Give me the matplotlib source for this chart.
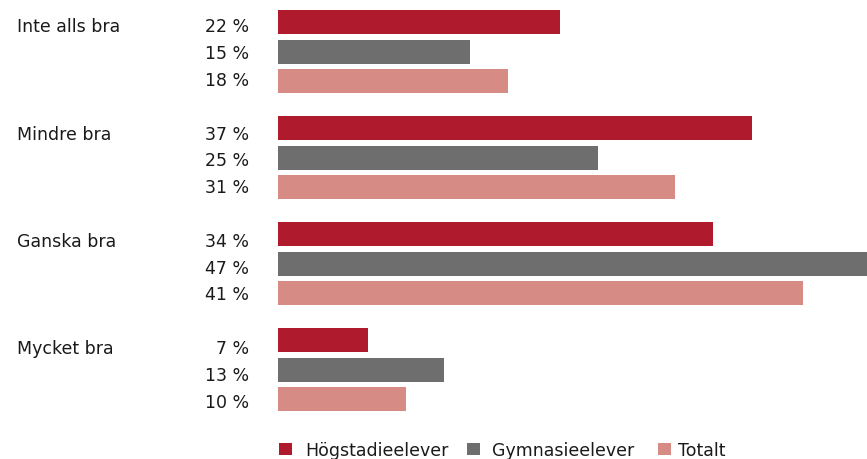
import matplotlib
matplotlib.use("Agg")
import matplotlib.pyplot as plt
from matplotlib.patches import Rectangle

categories = ["Inte alls bra", "Mindre bra", "Ganska bra", "Mycket bra"]
series_names = ["Högstadieelever", "Gymnasieelever", "Totalt"]
hogstadie = [22, 37, 34, 7]
gymnasie = [15, 25, 47, 13]
totalt = [18, 31, 41, 10]
colors = ["#B01A2D", "#6E6E6E", "#D68C84"]

W, H = 867, 460
plt.rcParams['font.family'] = ['DejaVu Sans']
fig = plt.figure(figsize=(W / 100, H / 100), dpi=100)

ax_left = 278 / W
ax = fig.add_axes([ax_left, 0, 1 - ax_left, 1])

px_per_unit = 12.8
ax.set_xlim(0, (W - 278) / px_per_unit)
ax.set_ylim(H, 0)   # vertical layout measured in pixels from the top

bar_first_center = 23.0
bar_pitch = 29.7
bar_group_pitch = 106.0
bar_h = 24.0

txt_first_base = 32.5
txt_pitch = 26.7
txt_group_pitch = 107.2

series = [hogstadie, gymnasie, totalt]
fs = 12.5
tc = "#1a1a1a"

def ftext(x, y, s, **kw):
    fig.text(x / W, 1 - y / H, s, fontsize=fs, color=tc, va="baseline", **kw)

for gi, cat in enumerate(categories):
    for si, vals in enumerate(series):
        y = bar_first_center + gi * bar_group_pitch + si * bar_pitch
        ax.barh(y, vals[gi], height=bar_h, color=colors[si])
        ty = txt_first_base + gi * txt_group_pitch + si * txt_pitch
        ftext(249, ty, f"{vals[gi]} %", ha="right")
    ftext(17, txt_first_base + gi * txt_group_pitch, cat, ha="left")

ax.axis("off")

leg_sq_x = [279, 467, 658]
leg_txt_x = [305, 492, 678]
for c, name, sx, tx in zip(colors, series_names, leg_sq_x, leg_txt_x):
    fig.patches.append(Rectangle((sx / W, 1 - 456 / H), 13 / W, 12 / H,
                                 transform=fig.transFigure, facecolor=c, edgecolor="none"))
    ftext(tx, 456.5, name, ha="left")

fig.savefig("out.png", dpi=100)
